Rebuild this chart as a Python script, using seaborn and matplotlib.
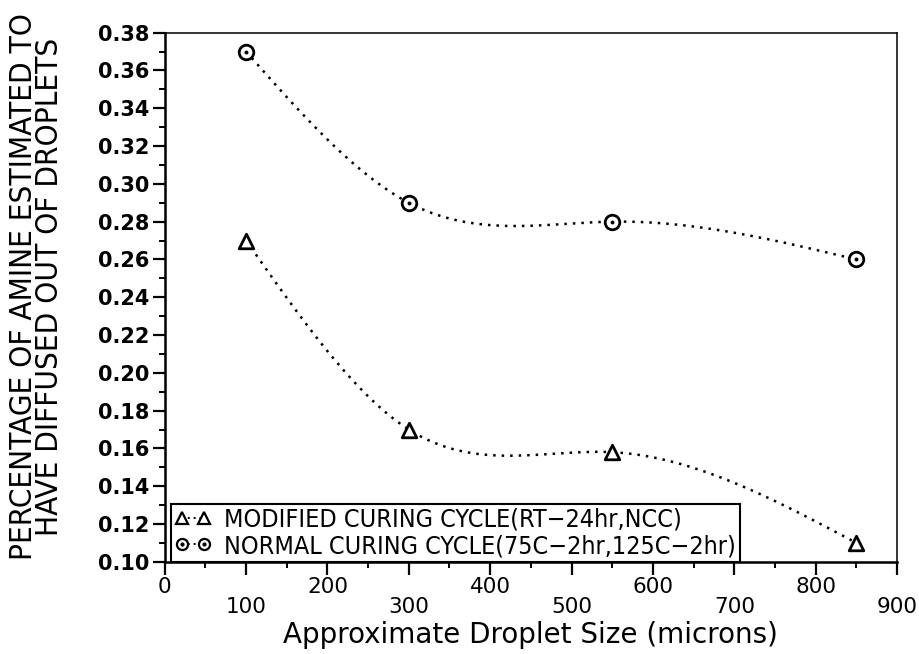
import numpy as np
import pandas as pd
import matplotlib
matplotlib.use('Agg')
import matplotlib.pyplot as plt
import seaborn as sns
from matplotlib.lines import Line2D
from matplotlib.ticker import MultipleLocator

# ---------------- Data ---------------- #
droplet_size = [100, 300, 550, 850]
modified_cycle = [0.27, 0.17, 0.158, 0.11]
normal_cycle = [0.37, 0.29, 0.28, 0.26]
series_labels = ['MODIFIED CURING CYCLE(RT\u221224hr,NCC)',
                 'NORMAL CURING CYCLE(75C\u22122hr,125C\u22122hr)']
x_ticks = [0, 100, 200, 300, 400, 500, 600, 700, 800, 900]
y_ticks = [0.10, 0.12, 0.14, 0.16, 0.18, 0.20, 0.22, 0.24, 0.26, 0.28,
           0.30, 0.32, 0.34, 0.36, 0.38]

NARROW = ['DejaVu Sans Condensed', 'Liberation Sans Narrow', 'DejaVu Sans']


def smooth_curve(x, y, n=300):
    # natural cubic spline, used only to draw the connecting dotted line
    x = np.asarray(x, float)
    y = np.asarray(y, float)
    k = len(x)
    h = np.diff(x)
    A = np.zeros((k, k))
    b = np.zeros(k)
    A[0, 0] = A[-1, -1] = 1
    for i in range(1, k - 1):
        A[i, i - 1] = h[i - 1]
        A[i, i] = 2 * (h[i - 1] + h[i])
        A[i, i + 1] = h[i]
        b[i] = 3 * ((y[i + 1] - y[i]) / h[i] - (y[i] - y[i - 1]) / h[i - 1])
    c = np.linalg.solve(A, b)
    bb = (y[1:] - y[:-1]) / h - h * (2 * c[:-1] + c[1:]) / 3
    d = (c[1:] - c[:-1]) / (3 * h)
    xs = np.linspace(x[0], x[-1], n)
    idx = np.clip(np.searchsorted(x, xs) - 1, 0, k - 2)
    dx = xs - x[idx]
    ys = y[idx] + bb[idx] * dx + c[idx] * dx ** 2 + d[idx] * dx ** 3
    return xs, ys


sns.set_theme(style='ticks')
plt.rcParams['font.family'] = ['DejaVu Sans']
plt.rcParams['text.color'] = 'black'

fig, ax = plt.subplots(figsize=(9.2, 6.54), dpi=100)
fig.subplots_adjust(left=0.179, right=0.975, bottom=0.141, top=0.950)

df = pd.DataFrame({'size': droplet_size, 'modified': modified_cycle,
                   'normal': normal_cycle})

for col, marker in [('modified', '^'), ('normal', 'o')]:
    xs, ys = smooth_curve(df['size'], df[col])
    ax.plot(xs, ys, linestyle=(0, (1, 2.4)), color='black', lw=1.8)
    sns.scatterplot(data=df, x='size', y=col, marker=marker, s=110,
                    facecolor='white', edgecolor='black', linewidth=2.0,
                    ax=ax, zorder=3)
    if marker == 'o':
        sns.scatterplot(data=df, x='size', y=col, marker='o', s=8,
                        color='black', linewidth=0, ax=ax, zorder=4)

ax.set_xlim(0, 900)
ax.set_ylim(0.10, 0.38)
ax.set_xticks(x_ticks)
ax.set_xticklabels([str(t) if i % 2 == 0 else '\n' + str(t)
                    for i, t in enumerate(x_ticks)], fontsize=15.5,
                   linespacing=1.0)
ax.xaxis.set_minor_locator(MultipleLocator(50))
ax.set_yticks(y_ticks)
ax.set_yticklabels([f'{t:.2f}' for t in y_ticks], fontsize=15,
                   fontweight='bold')
ax.yaxis.set_minor_locator(MultipleLocator(0.01))

ax.tick_params(axis='both', which='major', direction='out', length=9,
               width=1.6, color='black', pad=2, labelcolor='black')
ax.tick_params(axis='both', which='minor', direction='out', length=4.5,
               width=1.4, color='black')

for side in ['left', 'bottom']:
    ax.spines[side].set_linewidth(1.8)
    ax.spines[side].set_color('black')
for side in ['top', 'right']:
    ax.spines[side].set_linewidth(1.1)
    ax.spines[side].set_color('black')

ax.set_xlabel('Approximate Droplet Size (microns)', fontsize=20,
              color='black', va='center')
ax.xaxis.set_label_coords(0.5, -0.138)
ax.set_ylabel('PERCENTAGE OF AMINE ESTIMATED TO\nHAVE DIFFUSED OUT OF DROPLETS',
              fontsize=22.5, family=NARROW, fontstretch='condensed',
              color='black', linespacing=0.88, va='center')
ax.yaxis.set_label_coords(-0.175, 0.52)

tri = Line2D([], [], marker='^', linestyle=(0, (1, 2)), color='black',
             markerfacecolor='white', markeredgewidth=1.6, markersize=8, lw=1.4)
circ = Line2D([], [], marker='o', linestyle=(0, (1, 2)), color='black',
              markerfacecolor='white', markeredgewidth=1.6, markersize=8, lw=1.4)
dot = Line2D([], [], marker='o', linestyle='none', color='black',
             markersize=2)
leg = ax.legend([tri, (circ, dot)], series_labels, loc='lower left',
                bbox_to_anchor=(0.008, 0.0), borderaxespad=0, numpoints=2,
                handlelength=1.5, handletextpad=0.5, borderpad=0.15,
                labelspacing=0.1, fancybox=False, framealpha=1,
                edgecolor='black', labelcolor='black',
                prop={'family': NARROW, 'size': 18, 'stretch': 'condensed'})
leg.get_frame().set_linewidth(1.5)

fig.savefig('out.png', dpi=100)
